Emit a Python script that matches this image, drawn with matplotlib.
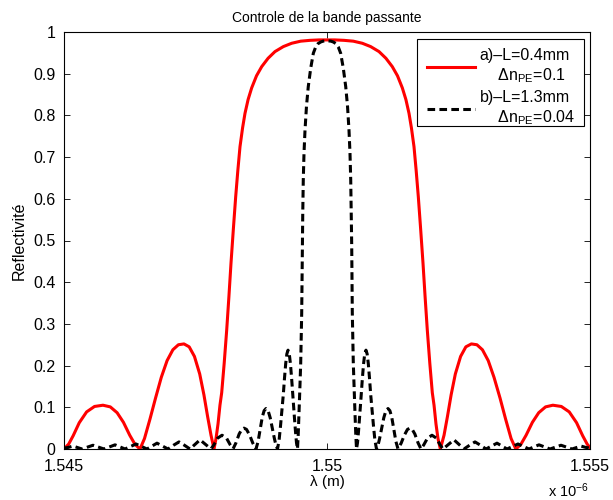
import matplotlib
matplotlib.use("Agg")
import numpy as np
import matplotlib.pyplot as plt
from matplotlib.patches import Rectangle
from matplotlib.ticker import FixedLocator, FuncFormatter

plt.rcParams['font.family'] = ['Liberation Sans', 'DejaVu Sans']
plt.rcParams['mathtext.fontset'] = 'custom'
plt.rcParams['mathtext.rm'] = 'Liberation Sans'
plt.rcParams['mathtext.default'] = 'regular'

# Grating a) : L = 0.4 mm, dn = 0.1  (wavelength in nm, reflectivity)
red_nm = [1545.000, 1545.090, 1545.175, 1545.290, 1545.430, 1545.580, 1545.741, 1545.880, 1546.010, 1546.130,
          1546.250, 1546.350, 1546.445,
          1546.530, 1546.635, 1546.740, 1546.850, 1546.960, 1547.070, 1547.175, 1547.281, 1547.380, 1547.480,
          1547.580, 1547.660, 1547.730, 1547.795, 1547.852,
          1547.890, 1547.928, 1547.965, 1547.998, 1548.045, 1548.093, 1548.135, 1548.175, 1548.220, 1548.264,
          1548.305, 1548.346, 1548.395, 1548.441, 1548.500, 1548.568, 1548.660, 1548.759, 1548.880, 1549.011,
          1549.170, 1549.329, 1549.500, 1549.677, 1549.850, 1550.000,
          1550.150, 1550.323, 1550.500, 1550.671, 1550.830, 1550.989, 1551.120, 1551.241, 1551.340, 1551.432,
          1551.500, 1551.559, 1551.605, 1551.654, 1551.695, 1551.736, 1551.780, 1551.825, 1551.865, 1551.907,
          1551.955, 1552.002, 1552.035, 1552.072, 1552.110, 1552.155,
          1552.225, 1552.290, 1552.360, 1552.440, 1552.540, 1552.640, 1552.745, 1552.850, 1552.955, 1553.065,
          1553.175, 1553.290, 1553.395, 1553.500, 1553.590,
          1553.685, 1553.785, 1553.905, 1554.025, 1554.155, 1554.294, 1554.455, 1554.605, 1554.745, 1554.860,
          1554.945, 1555.000]
red_R = [0.000, 0.012, 0.032, 0.063, 0.089, 0.102, 0.105, 0.101, 0.087, 0.064,
         0.033, 0.011, 0.000,
         0.025, 0.072, 0.122, 0.172, 0.212, 0.238, 0.250, 0.252, 0.245, 0.222,
         0.180, 0.130, 0.078, 0.033, 0.000,
         0.025, 0.060, 0.105, 0.135, 0.205, 0.285, 0.365, 0.446, 0.528, 0.605,
         0.668, 0.725, 0.770, 0.805, 0.838, 0.866, 0.895, 0.917, 0.937, 0.953,
         0.965, 0.973, 0.978, 0.980, 0.981, 0.981,
         0.981, 0.980, 0.978, 0.973, 0.965, 0.953, 0.937, 0.917, 0.895, 0.866,
         0.838, 0.805, 0.770, 0.725, 0.668, 0.605, 0.528, 0.446, 0.365, 0.285,
         0.205, 0.135, 0.105, 0.060, 0.025, 0.000,
         0.033, 0.078, 0.130, 0.180, 0.222, 0.245, 0.252, 0.250, 0.238, 0.212,
         0.172, 0.122, 0.072, 0.025, 0.000,
         0.011, 0.033, 0.064, 0.087, 0.101, 0.105, 0.102, 0.089, 0.063, 0.032,
         0.012, 0.003]

# Grating b) : L = 1.3 mm, dn = 0.04
black_nm = [1545.000, 1545.086, 1545.171, 1545.257, 1545.342,
            1545.447, 1545.551, 1545.656, 1545.760,
            1545.865, 1545.970, 1546.065, 1546.160,
            1546.264, 1546.369, 1546.473, 1546.578,
            1546.673, 1546.768, 1546.872, 1546.977,
            1547.082, 1547.186, 1547.290, 1547.395,
            1547.490, 1547.586, 1547.690, 1547.795,
            1547.850, 1547.920, 1548.004, 1548.090, 1548.160, 1548.213,
            1548.270, 1548.330, 1548.380, 1548.422, 1548.470, 1548.530, 1548.590, 1548.650,
            1548.690, 1548.730, 1548.770, 1548.805, 1548.840, 1548.880, 1548.920, 1548.960, 1549.000, 1549.030,
            1549.059,
            1549.090, 1549.116, 1549.143, 1549.169, 1549.192, 1549.215, 1549.237, 1549.259, 1549.283, 1549.306,
            1549.330, 1549.354, 1549.378, 1549.401, 1549.420, 1549.439,
            1549.453, 1549.468, 1549.484, 1549.500, 1549.510, 1549.519, 1549.525, 1549.530, 1549.539, 1549.549,
            1549.563, 1549.582, 1549.610, 1549.644, 1549.690, 1549.740, 1549.785, 1549.829, 1549.880, 1549.924,
            1550.000,
            1550.076, 1550.120, 1550.171, 1550.215, 1550.260, 1550.310, 1550.356, 1550.390, 1550.418, 1550.437,
            1550.451, 1550.461, 1550.470, 1550.475, 1550.481, 1550.490, 1550.500, 1550.516, 1550.532, 1550.547,
            1550.561,
            1550.580, 1550.599, 1550.622, 1550.646, 1550.670, 1550.694, 1550.717, 1550.741, 1550.763, 1550.785,
            1550.808, 1550.831, 1550.857, 1550.884, 1550.910, 1550.941,
            1550.970, 1551.000, 1551.040, 1551.080, 1551.120, 1551.160, 1551.195, 1551.230, 1551.270, 1551.310,
            1551.350,
            1551.410, 1551.470, 1551.530, 1551.578, 1551.620, 1551.670, 1551.730, 1551.787,
            1551.840, 1551.910, 1551.996, 1552.080, 1552.150, 1552.205,
            1552.310, 1552.414, 1552.510, 1552.605,
            1552.710, 1552.814, 1552.918, 1553.023,
            1553.128, 1553.232, 1553.327, 1553.422,
            1553.527, 1553.631, 1553.736, 1553.840,
            1553.935, 1554.030, 1554.135, 1554.240,
            1554.344, 1554.449, 1554.553, 1554.658,
            1554.743, 1554.829, 1554.914, 1555.000]
black_R = [0.002, 0.004, 0.007, 0.0035, 0.000,
           0.0045, 0.009, 0.0045, 0.000,
           0.005, 0.010, 0.005, 0.000,
           0.006, 0.012, 0.006, 0.000,
           0.007, 0.014, 0.007, 0.000,
           0.009, 0.017, 0.009, 0.000,
           0.011, 0.022, 0.011, 0.000,
           0.010, 0.026, 0.033, 0.026, 0.010, 0.000,
           0.015, 0.036, 0.047, 0.050, 0.047, 0.033, 0.014, 0.000,
           0.018, 0.048, 0.077, 0.092, 0.097, 0.092, 0.075, 0.050, 0.025, 0.009,
           0.000,
           0.022, 0.055, 0.092, 0.130, 0.170, 0.205, 0.228, 0.237, 0.228, 0.203,
           0.165, 0.122, 0.080, 0.042, 0.015, 0.000,
           0.035, 0.086, 0.145, 0.206, 0.265, 0.326, 0.405, 0.485, 0.565, 0.645,
           0.710, 0.765, 0.822, 0.869, 0.913, 0.949, 0.964, 0.972, 0.976, 0.978,
           0.979,
           0.978, 0.976, 0.972, 0.964, 0.949, 0.913, 0.869, 0.822, 0.765, 0.710,
           0.645, 0.565, 0.485, 0.405, 0.326, 0.265, 0.206, 0.145, 0.086, 0.035,
           0.000,
           0.015, 0.042, 0.080, 0.122, 0.165, 0.203, 0.228, 0.237, 0.228, 0.205,
           0.170, 0.130, 0.092, 0.055, 0.022, 0.000,
           0.009, 0.025, 0.050, 0.075, 0.092, 0.097, 0.092, 0.077, 0.048, 0.018,
           0.000,
           0.014, 0.033, 0.047, 0.050, 0.047, 0.036, 0.015, 0.000,
           0.010, 0.026, 0.033, 0.026, 0.010, 0.000,
           0.011, 0.022, 0.011, 0.000,
           0.009, 0.017, 0.009, 0.000,
           0.007, 0.014, 0.007, 0.000,
           0.006, 0.012, 0.006, 0.000,
           0.005, 0.010, 0.005, 0.000,
           0.0045, 0.009, 0.0045, 0.000,
           0.0035, 0.007, 0.004, 0.002]

x_ticks = [1.545, 1.55, 1.555]
y_ticks = [0, 0.1, 0.2, 0.3, 0.4, 0.5, 0.6, 0.7, 0.8, 0.9, 1.0]

label_a = "a)\u2013L=0.4mm\n    \u0394n$_{PE}$=0.1"
label_b = "b)\u2013L=1.3mm\n    \u0394n$_{PE}$=0.04"

W, H = 613, 500
fig = plt.figure(figsize=(W / 100, H / 100), dpi=100)
ax = fig.add_axes([64 / W, 51 / H, 526 / W, 417 / H])

ax.plot(np.array(red_nm) / 1000.0, red_R, color='#ff0000', lw=2.2,
        solid_joinstyle='round', label=label_a)
ax.plot(np.array(black_nm) / 1000.0, black_R, color='black', lw=2.2,
        dashes=(2.5, 1.4), label=label_b)

ax.set_xlim(1.545, 1.555)
ax.set_ylim(0, 1)
ax.xaxis.set_major_locator(FixedLocator(x_ticks))
ax.yaxis.set_major_locator(FixedLocator(y_ticks))
fmt = FuncFormatter(lambda v, p: f"{v:g}")
ax.xaxis.set_major_formatter(fmt)
ax.yaxis.set_major_formatter(fmt)
ax.tick_params(direction='in', top=True, right=True, length=4, width=0.6,
               labelsize=11.5)
ax.tick_params(axis='x', pad=7)
ax.tick_params(axis='y', pad=6)
for s in ax.spines.values():
    s.set_linewidth(0.8)

ax.set_title("Controle de la bande passante", fontsize=10, pad=7)
ax.set_xlabel("\u03bb (m)", fontsize=11, labelpad=1)
ax.set_ylabel("Reflectivit\u00e9", fontsize=11.5, labelpad=5)

fig.text(548 / W, 1 - 491 / H, "x 10$^{-6}$", fontsize=10.5, va='center', ha='left')

# legend entries, with a separate box around them
leg = ax.legend(loc='upper left', bbox_to_anchor=(0.690, 0.961), borderaxespad=0,
                fontsize=11.5, frameon=False, handlelength=3.0, handletextpad=0.3,
                borderpad=0.0, labelspacing=0.35)
ax.add_patch(Rectangle((0.6711, 0.7746), 0.9886 - 0.6711, 0.9832 - 0.7746,
                       transform=ax.transAxes, facecolor='white', edgecolor='black',
                       linewidth=0.8, zorder=4))
leg.set_zorder(5)

fig.savefig("out.png", dpi=100)
